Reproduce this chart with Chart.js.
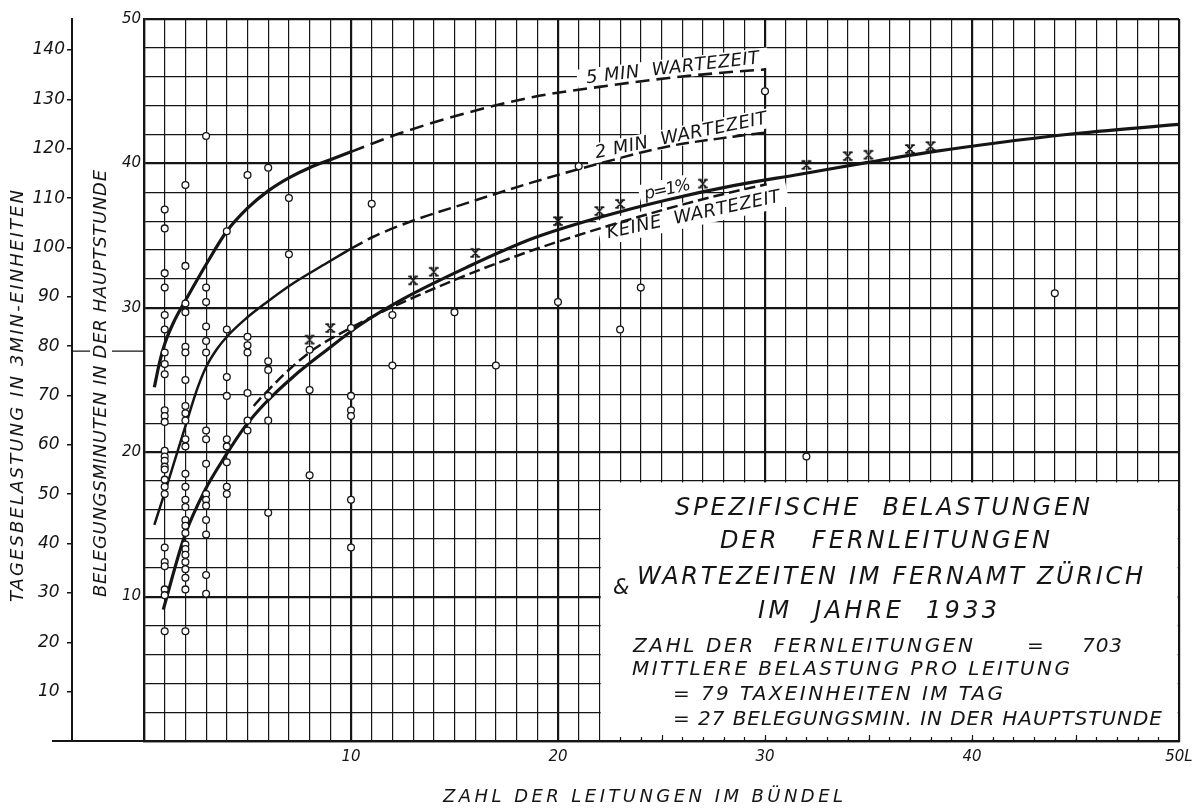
<!DOCTYPE html>
<html lang="de">
<head>
<meta charset="utf-8">
<title>Spezifische Belastungen der Fernleitungen</title>
<script src="https://cdn.jsdelivr.net/npm/chart.js@4.4.1/dist/chart.umd.min.js"></script>
<style>
  html, body { margin: 0; padding: 0; background: #fff; }
  canvas { display: block; }
</style>
</head>
<body>
<canvas id="chart" width="1201" height="808" style="width:1201px;height:808px"></canvas>
<script>
// ---- Observed bundles (circles): lines in bundle, busy minutes per line in the peak hour
const obsLines = [1, 2, 3, 4, 5, 6, 7, 8, 10, 11, 12, 15, 17, 20, 21, 23, 24, 30, 32, 44];
const obsMinutes = [
  [36.8, 35.5, 32.4, 31.4, 29.5, 28.5, 26.9, 26.1, 25.4, 22.9, 22.5, 22.1, 20.1, 19.7, 19.4, 19.0, 18.8, 18.1, 17.6, 17.1, 13.4, 12.4, 12.1, 10.5, 10.1, 7.6],
  [38.5, 32.9, 30.3, 29.7, 27.3, 26.9, 25.0, 23.2, 22.7, 22.2, 20.9, 20.4, 18.5, 17.6, 16.7, 16.2, 15.3, 14.9, 14.4, 13.6, 13.3, 12.9, 12.4, 11.9, 11.3, 10.5, 7.6],
  [41.9, 31.4, 30.4, 28.7, 27.7, 26.9, 21.5, 20.9, 19.2, 17.1, 16.7, 16.3, 15.3, 14.3, 11.5, 10.2],
  [35.3, 28.5, 25.2, 23.9, 20.9, 20.4, 19.3, 17.6, 17.1],
  [39.2, 28.0, 27.4, 26.9, 24.1, 22.2, 21.5],
  [39.7, 26.3, 25.7, 23.9, 22.2, 15.8],
  [37.6, 33.7],
  [27.1, 24.3, 18.4],
  [28.6, 23.9, 22.9, 22.5, 16.7, 13.4],
  [37.2],
  [29.5, 26.0],
  [29.7],
  [26.0],
  [30.4],
  [39.8],
  [28.5],
  [31.4],
  [45.0],
  [19.7],
  [31.0]
];

// ---- Crosses: large bundles
const markLines   = [8, 9, 13, 14, 16, 20, 22, 23, 27, 32, 34, 35, 37, 38];
const markMinutes = [27.8, 28.6, 31.9, 32.5, 33.8, 36.0, 36.7, 37.2, 38.6, 39.9, 40.5, 40.6, 41.0, 41.2];

// ---- Curves
const wait5SolidX = [0.5, 0.75, 1, 1.5, 2, 3, 4, 5, 6, 7, 8, 9, 10];
const wait5SolidY = [24.5, 26.2, 27.5, 29.2, 30.5, 33.0, 35.3, 36.9, 38.1, 39.0, 39.7, 40.25, 40.8];
const wait5DashX  = [10, 12.4, 15.6, 18.8, 22.0, 25.25, 28.5, 30];
const wait5DashY  = [40.8, 42.1, 43.5, 44.6, 45.3, 45.9, 46.35, 46.5];

const wait2SolidX = [0.5, 1, 1.5, 2, 2.55, 3, 3.5, 4.07, 4.88, 5.85, 7.21, 8.83, 10];
const wait2SolidY = [14.96, 17.2, 19.5, 21.8, 24.3, 25.9, 27.1, 28.1, 29.2, 30.3, 31.7, 33.1, 34.1];
const wait2DashX  = [10, 11.08, 12.85, 15.59, 18.8, 22.03, 25.25, 28.47, 30];
const wait2DashY  = [34.1, 34.92, 35.96, 37.25, 38.7, 40.0, 41.16, 41.85, 42.13];

const p1X = [0.93, 1.95, 2.95, 3.91, 4.88, 5.85, 7.21, 8.83, 10.43, 12.5, 15.59, 18.8, 22.03, 25.25, 28.47, 31.69, 34.9, 38.13, 41.35, 44.57, 50];
const p1Y = [9.1, 14.15, 17.38, 19.69, 21.77, 23.39, 25.23, 27.08, 28.81, 30.6, 32.8, 34.81, 36.27, 37.47, 38.46, 39.25, 40.05, 40.81, 41.45, 42.0, 42.7];

const noWaitX = [5.3, 5.6, 7.94, 9.95, 12.04, 15.59, 18.8, 22.03, 25.25, 28.47, 30.08];
const noWaitY = [23.2, 23.7, 26.85, 28.58, 30.08, 32.27, 34.0, 35.5, 36.85, 38.04, 38.55];

// ---- Tick labels
const xLabelAt = [10, 20, 30, 40, 50];
const xLabelText = ['10', '20', '30', '40', '50L'];
const minuteLabelAt = [10, 20, 30, 40, 50];
const taxLabelAt = [10, 20, 30, 40, 50, 60, 70, 80, 90, 100, 110, 120, 130, 140];

// ---- Mean load per line: 79 tax units per day = 27 busy minutes in the peak hour
const meanTax = 79;
const meanMinutes = 27;

const xMax = 50;
const yMax = 50;
const taxMax = yMax * meanTax / meanMinutes;

// ------------------------------------------------------------------
const ink = '#151515';
const FONT = '"DejaVu Sans", "Liberation Sans", sans-serif';

function pts(xs, ys) { return xs.map((x, i) => ({ x, y: ys[i] })); }
const observations = obsLines.flatMap((n, i) => obsMinutes[i].map(m => ({ x: n, y: m })));

// hand-drawn style cross with small serifs
function makeCrossGlyph() {
  const c = document.createElement('canvas');
  c.width = 12; c.height = 12;
  const g = c.getContext('2d');
  g.strokeStyle = ink; g.lineWidth = 1.7; g.lineCap = 'round';
  g.beginPath();
  g.moveTo(3, 2.5); g.lineTo(9, 9.5);
  g.moveTo(9, 2.5); g.lineTo(3, 9.5);
  g.moveTo(1.8, 2.2); g.lineTo(4.2, 2.2);
  g.moveTo(7.8, 2.2); g.lineTo(10.2, 2.2);
  g.moveTo(1.8, 9.8); g.lineTo(4.2, 9.8);
  g.moveTo(7.8, 9.8); g.lineTo(10.2, 9.8);
  g.stroke();
  return c;
}

// Letter-spaced italic lettering, fitted to a given run length
function drawLettering(ctx, text, x, y, o) {
  ctx.save();
  ctx.translate(x, y);
  if (o.angle) ctx.rotate(o.angle * Math.PI / 180);
  ctx.font = `italic ${o.size}px ${FONT}`;
  ctx.fillStyle = ink;
  ctx.textBaseline = 'middle';
  ctx.textAlign = 'left';
  ctx.letterSpacing = '0px';
  const natural = ctx.measureText(text).width;
  const n = [...text].length;
  let w = natural;
  if (o.width && n > 1) {
    const s = (o.width - natural) / (n - 1);
    ctx.letterSpacing = s.toFixed(3) + 'px';
    w = o.width;
  }
  const x0 = o.align === 'left' ? 0 : -w / 2;
  ctx.fillText(text, x0, 0);
  ctx.restore();
}

// Labels written along the curves (centre in data units, angle in degrees)
const curveLabels = [
  { text: '5 MIN  WARTEZEIT', at: [25.54, 46.57], angle: -6.6,  width: 174, size: 18, band: [9, 10, 10] },
  { text: '2 MIN  WARTEZEIT', at: [25.95, 41.89], angle: -11.5, width: 175, size: 18, band: [9, 10, 9.5] },
  { text: 'p=1%',             at: [25.29, 38.16], angle: -12.5, width: 47,  size: 17, band: [5, 11, 9] },
  { text: 'KEINE  WARTEZEIT', at: [26.55, 36.41], angle: -12,   width: 177, size: 18, band: [8, 14.5, 11] }
];

// Caption panel in the lower right corner
const panelFrom = { lines: 22, minutes: 18 };
const panelText = [
  { text: 'SPEZIFISCHE  BELASTUNGEN', dx: 75.6,  dy: 27.8,  width: 415, size: 24 },
  { text: 'DER   FERNLEITUNGEN',      dx: 120.6, dy: 60.5,  width: 330, size: 24 },
  { text: '&',                        dx: 13.6,  dy: 107.3, width: 0,   size: 21 },
  { text: 'WARTEZEITEN IM FERNAMT ZÜRICH', dx: 37.6, dy: 96.8, width: 506, size: 24 },
  { text: 'IM  JAHRE  1933',          dx: 158.6, dy: 130.5, width: 239, size: 24 },
  { text: 'ZAHL DER  FERNLEITUNGEN',  dx: 33.6,  dy: 165.3, width: 340, size: 20 },
  { text: '=',                        dx: 427.6, dy: 165.3, width: 0,   size: 20 },
  { text: '703',                      dx: 482.6, dy: 165.3, width: 40,  size: 20 },
  { text: 'MITTLERE BELASTUNG PRO LEITUNG', dx: 32.6, dy: 188.8, width: 438, size: 20 },
  { text: '= 79 TAXEINHEITEN IM TAG', dx: 73.6,  dy: 213.3, width: 330, size: 20 },
  { text: '= 27 BELEGUNGSMIN. IN DER HAUPTSTUNDE', dx: 73.6, dy: 238.8, width: 489, size: 20 }
];

const sheetPlugin = {
  id: 'sheet',
  beforeDatasetsDraw(chart) {
    const { ctx, chartArea: a, scales: { x, y } } = chart;
    ctx.save();
    // blank the grid inside the caption panel
    const pl = x.getPixelForValue(panelFrom.lines);
    const pt = y.getPixelForValue(panelFrom.minutes);
    ctx.fillStyle = '#fff';
    ctx.fillRect(pl + 1.3, pt + 1.3, a.right - pl - 2.6, a.bottom - pt - 2.6);
    // small ticks on the bottom edge of the panel
    ctx.strokeStyle = ink;
    ctx.lineWidth = 1.2;
    ctx.beginPath();
    for (let v = panelFrom.lines + 1; v < xMax; v++) {
      const px = Math.round(x.getPixelForValue(v)) + 0.5;
      const len = v % 5 === 0 ? 6 : 4;
      ctx.moveTo(px, a.bottom);
      ctx.lineTo(px, a.bottom - len);
    }
    ctx.stroke();
    // white bands under the curve lettering
    for (const L of curveLabels) {
      const cx = x.getPixelForValue(L.at[0]);
      const cy = y.getPixelForValue(L.at[1]);
      ctx.save();
      ctx.translate(cx, cy);
      ctx.rotate(L.angle * Math.PI / 180);
      ctx.fillStyle = '#fff';
      ctx.fillRect(-L.width / 2 - L.band[0], -L.band[1], L.width + 2 * L.band[0], L.band[1] + L.band[2]);
      ctx.restore();
    }
    ctx.restore();
  },
  afterDatasetsDraw(chart) {
    const { ctx, scales: { x, y } } = chart;
    for (const L of curveLabels) {
      drawLettering(ctx, L.text, x.getPixelForValue(L.at[0]), y.getPixelForValue(L.at[1]),
        { angle: L.angle, width: L.width, size: L.size });
    }
    const pl = x.getPixelForValue(panelFrom.lines);
    const pt = y.getPixelForValue(panelFrom.minutes);
    for (const t of panelText) {
      drawLettering(ctx, t.text, pl + t.dx, pt + t.dy, { width: t.width, size: t.size, align: 'left' });
    }
  },
  afterDraw(chart) {
    const { ctx, chartArea: a, scales: { x, y, y2 } } = chart;
    ctx.save();
    ctx.strokeStyle = ink;
    // bottom axis runs out to the left past both scales
    ctx.lineWidth = 2.2;
    ctx.beginPath();
    ctx.moveTo(y2.left + 52, Math.round(a.bottom));
    ctx.lineTo(a.left, Math.round(a.bottom));
    ctx.stroke();
    // mean load marker (79 tax units = 27 busy minutes)
    const my = y2.getPixelForValue(meanTax);
    ctx.lineWidth = 1.4;
    ctx.beginPath();
    ctx.moveTo(y2.right, my); ctx.lineTo(y2.right + 18, my);
    ctx.moveTo(y.left + 40, my); ctx.lineTo(a.left, my);
    ctx.stroke();
    ctx.restore();
    // axis titles
    const midY = (a.top + a.bottom) / 2;
    drawLettering(ctx, 'TAGESBELASTUNG IN 3MIN-EINHEITEN', y2.left + 18, midY + 16, { angle: -90, width: 412, size: 18 });
    drawLettering(ctx, 'BELEGUNGSMINUTEN IN DER HAUPTSTUNDE', y.left + 29, midY + 3.5, { angle: -90, width: 427, size: 18 });
    drawLettering(ctx, 'ZAHL DER LEITUNGEN IM BÜNDEL', (a.left + a.right) / 2 - 18.5, a.bottom + 56, { width: 400, size: 18 });
  }
};

const majorWidth = ctx => (ctx.tick && Math.abs(ctx.tick.value % 10) < 1e-9) ? 2.2 : 1.2;
const tickFont = { family: FONT, style: 'italic', size: 15 };

const curve = (xs, ys, width, dash) => ({
  data: pts(xs, ys),
  showLine: true,
  borderColor: ink,
  borderWidth: width,
  borderDash: dash || [],
  borderCapStyle: 'butt',
  pointRadius: 0,
  fill: false,
  cubicInterpolationMode: 'monotone'
});

new Chart(document.getElementById('chart'), {
  type: 'scatter',
  data: {
    datasets: [
      {
        label: 'Bündel',
        data: observations,
        showLine: false,
        pointStyle: 'circle',
        pointRadius: 3.4,
        pointBorderWidth: 1.3,
        pointBackgroundColor: '#fff',
        pointBorderColor: ink
      },
      {
        label: 'Mittel',
        data: pts(markLines, markMinutes),
        showLine: false,
        pointStyle: makeCrossGlyph(),
        pointRadius: 5
      },
      Object.assign({ label: '5 min' }, curve(wait5SolidX, wait5SolidY, 3.2)),
      Object.assign({ label: '5 min (extrapoliert)' }, curve(wait5DashX, wait5DashY, 2.6, [14, 7])),
      Object.assign({ label: '2 min' }, curve(wait2SolidX, wait2SolidY, 2.5)),
      Object.assign({ label: '2 min (extrapoliert)' }, curve(wait2DashX, wait2DashY, 2.5, [13, 6])),
      Object.assign({ label: 'p = 1%' }, curve(p1X, p1Y, 3.2)),
      Object.assign({ label: 'keine Wartezeit' }, curve(noWaitX, noWaitY, 2.5, [11, 5]))
    ]
  },
  options: {
    responsive: false,
    devicePixelRatio: 1,
    animation: false,
    events: [],
    layout: { padding: { left: 0, top: 19, right: 22, bottom: 0 } },
    plugins: { legend: { display: false }, tooltip: { enabled: false } },
    scales: {
      x: {
        type: 'linear',
        position: 'bottom',
        min: 0, max: xMax,
        afterFit(s) { s.height = 67; },
        ticks: {
          stepSize: 1, maxTicksLimit: 200, autoSkip: false, maxRotation: 0, minRotation: 0,
          padding: 7, color: ink, font: tickFont,
          callback: v => { const i = xLabelAt.indexOf(v); return i >= 0 ? xLabelText[i] : ''; }
        },
        grid: { color: ink, lineWidth: majorWidth, drawTicks: false },
        border: { display: true, color: ink, width: 2.2 }
      },
      y: {
        type: 'linear',
        position: 'left',
        weight: 0,
        min: 0, max: yMax,
        afterFit(s) { s.width = 72; },
        ticks: {
          stepSize: 2, maxTicksLimit: 200, autoSkip: false, padding: 3, color: ink, font: tickFont,
          callback: v => minuteLabelAt.includes(v) ? String(v) : ''
        },
        grid: { color: ink, lineWidth: majorWidth, drawTicks: false },
        border: { display: true, color: ink, width: 2.2 }
      },
      y2: {
        type: 'linear',
        position: 'left',
        weight: 1,
        min: 0, max: taxMax,
        afterFit(s) { s.width = 72; },
        ticks: {
          stepSize: 10, includeBounds: false, maxTicksLimit: 200, autoSkip: false,
          padding: 2, crossAlign: 'center', color: ink,
          font: { family: FONT, style: 'italic', size: 17 },
          callback: v => taxLabelAt.includes(v) ? String(v) : ''
        },
        grid: {
          drawOnChartArea: false, drawTicks: true, tickLength: 5, lineWidth: 1.5,
          color: c => (c.tick && c.tick.value > 0) ? ink : 'rgba(0,0,0,0)'
        },
        border: { display: true, color: ink, width: 2 }
      }
    }
  },
  plugins: [sheetPlugin]
});
</script>
</body>
</html>
